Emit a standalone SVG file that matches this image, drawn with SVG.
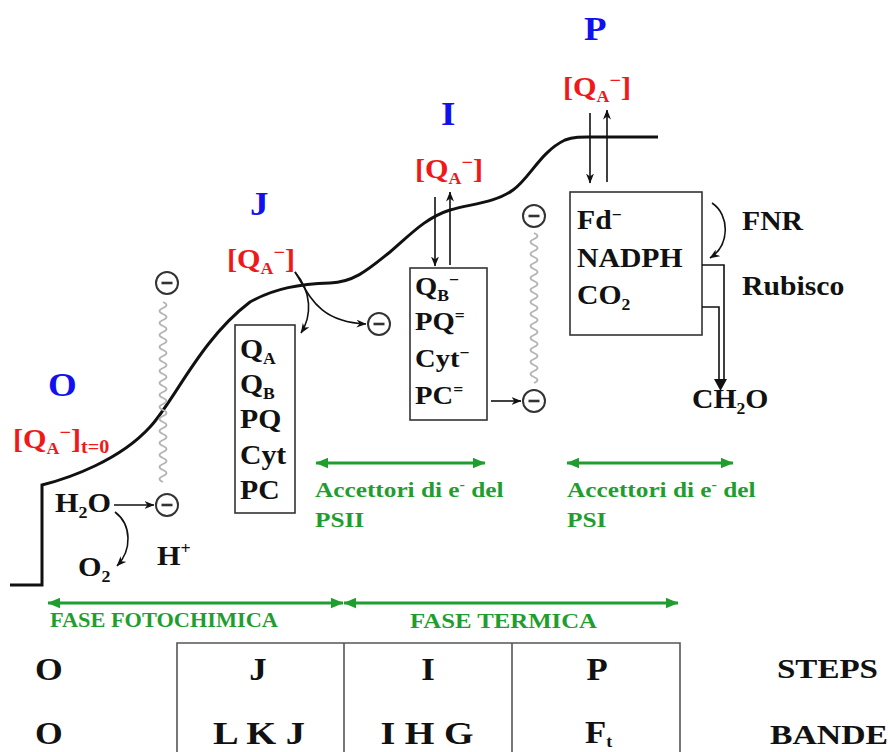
<svg xmlns="http://www.w3.org/2000/svg" width="890" height="752" viewBox="0 0 890 752">
<style>
text{font-family:"Liberation Serif","Times New Roman",serif;font-weight:bold;fill:#111}
.b{fill:#1010f0;font-size:33px}
.r{fill:#f01818;font-size:27px}
.k{font-size:27px}
.k25{font-size:26px}
.g{fill:#1f9e2f;font-size:22px}
.gs{fill:#1f9e2f;font-size:21px}
.tb{font-size:31px}
.sub{font-size:16px}
.sup{font-size:16px}
.box{fill:#fff;stroke:#333;stroke-width:1.6}
.ln{fill:none;stroke:#111;stroke-width:1.6}
.gl{fill:none;stroke:#1f9e2f;stroke-width:3}
.wave{fill:none;stroke:#b4b4b4;stroke-width:1.8}
.tab{fill:none;stroke:#555;stroke-width:1.6}
</style>
<defs>
<marker id="ah" viewBox="0 0 10 8" refX="9.5" refY="4" markerWidth="10" markerHeight="8" markerUnits="userSpaceOnUse" orient="auto"><path d="M0,0 L10,4 L0,8 L3,4z" fill="#111"/></marker>
<marker id="gh" viewBox="0 0 12 10" refX="11.5" refY="5" markerWidth="13" markerHeight="11" markerUnits="userSpaceOnUse" orient="auto-start-reverse"><path d="M0,0 L12,5 L0,10z" fill="#1f9e2f"/></marker>
<g id="em"><circle cx="0" cy="0" r="11" fill="#fff" stroke="#333" stroke-width="2"/><line x1="-5.5" y1="0" x2="5.5" y2="0" stroke="#333" stroke-width="2.6"/></g>
</defs>
<rect width="890" height="752" fill="#fff"/>

<g id="curve">
<path d="M10,585 H42 V485 C70,478 120,460 150,427 C175,400 200,340 250,302 C275,288 300,284 330,283 C355,282 370,268 390,252 C410,235 425,218 450,210 C470,204 495,203 513,190 C530,178 540,152 565,140 C575,136 585,137 600,137 H658" fill="none" stroke="#111" stroke-width="3"/>
</g>

<g id="waves">
<path class="wave" d="M163,302 q7,3 0,6 t0,6 t0,6 t0,6 t0,6 t0,6 t0,6 t0,6 t0,6 t0,6 t0,6 t0,6 t0,6 t0,6 t0,6 t0,6 t0,6 t0,6 t0,6 t0,6 t0,6 t0,6 t0,6 t0,6 t0,6 t0,6 t0,6 t0,6 t0,6 t0,6"/>
<path class="wave" d="M534,233 q7,3 0,6 t0,6 t0,6 t0,6 t0,6 t0,6 t0,6 t0,6 t0,6 t0,6 t0,6 t0,6 t0,6 t0,6 t0,6 t0,6 t0,6 t0,6 t0,6 t0,6 t0,6 t0,6 t0,6 t0,6 t0,6"/>
</g>

<g id="step-O">
<text class="b" transform="translate(48,396) scale(1.12,1)">O</text>
<text class="r" transform="translate(13,448) scale(1.12,1)">[Q<tspan class="sub" dy="6">A</tspan><tspan style="font-size:18px" dy="-16">−</tspan><tspan dy="10">]</tspan><tspan style="font-size:18px" dy="5">t=0</tspan></text>
<text class="k" transform="translate(55,512) scale(1.12,1)">H<tspan class="sub" dy="6">2</tspan><tspan dy="-6">O</tspan></text>
<text class="k" transform="translate(78,576) scale(1.12,1)">O<tspan class="sub" dy="6">2</tspan></text>
<text class="k" transform="translate(157,565) scale(1.12,1)">H<tspan class="sup" dy="-11">+</tspan></text>
<use href="#em" x="167" y="283"/>
<use href="#em" x="167" y="505"/>
</g>

<g id="step-J">
<text class="b" transform="translate(250,215) scale(1.12,1)">J</text>
<text class="r" transform="translate(227,268) scale(1.12,1)">[Q<tspan class="sub" dy="6">A</tspan><tspan style="font-size:18px" dy="-16">−</tspan><tspan dy="10">]</tspan></text>
<use href="#em" x="379" y="324"/>
</g>

<g id="box-J">
<rect class="box" x="235" y="325" width="60" height="188"/>
<text class="k" transform="translate(240,358) scale(1.1,1)">Q<tspan class="sub" dy="6">A</tspan></text>
<text class="k" transform="translate(240,393) scale(1.1,1)">Q<tspan class="sub" dy="6">B</tspan></text>
<text class="k" transform="translate(240,428) scale(1.1,1)">PQ</text>
<text class="k" transform="translate(240,464) scale(1.1,1)">Cyt</text>
<text class="k" transform="translate(240,499) scale(1.1,1)">PC</text>
</g>

<g id="step-I">
<text class="b" transform="translate(441,125) scale(1.12,1)">I</text>
<text class="r" transform="translate(415,178) scale(1.12,1)">[Q<tspan class="sub" dy="6">A</tspan><tspan style="font-size:18px" dy="-16">−</tspan><tspan dy="10">]</tspan></text>
<use href="#em" x="534" y="216"/>
<use href="#em" x="534" y="401"/>
</g>

<g id="box-I">
<rect class="box" x="410" y="268" width="77" height="152"/>
<text class="k25" transform="translate(415,295) scale(1.1,1)">Q<tspan class="sub" dy="6">B</tspan><tspan class="sup" dy="-16">−</tspan></text>
<text class="k25" transform="translate(415,330) scale(1.1,1)">PQ<tspan class="sup" dy="-9">=</tspan></text>
<text class="k25" transform="translate(415,367) scale(1.1,1)">Cyt<tspan class="sup" dy="-9">−</tspan></text>
<text class="k25" transform="translate(415,404) scale(1.1,1)">PC<tspan class="sup" dy="-9">=</tspan></text>
</g>

<g id="step-P">
<text class="b" transform="translate(584,40) scale(1.12,1)">P</text>
<text class="r" transform="translate(563,96) scale(1.12,1)">[Q<tspan class="sub" dy="6">A</tspan><tspan style="font-size:18px" dy="-16">−</tspan><tspan dy="10">]</tspan></text>
</g>

<g id="box-P">
<rect class="box" x="570" y="192" width="132" height="143"/>
<text class="k" transform="translate(577,229) scale(1.1,1)">Fd<tspan class="sup" dy="-9">−</tspan></text>
<text class="k" transform="translate(577,267) scale(1.1,1)">NADPH</text>
<text class="k" transform="translate(577,304) scale(1.1,1)">CO<tspan class="sub" dy="6">2</tspan></text>
</g>

<g id="labels-P">
<text class="k" transform="translate(742,230) scale(1.1,1)">FNR</text>
<text class="k" transform="translate(742,295) scale(1.1,1)">Rubisco</text>
<text class="k" transform="translate(692,408) scale(1.1,1)">CH<tspan class="sub" dy="6">2</tspan><tspan dy="-6">O</tspan></text>
</g>

<g id="acceptors">
<text class="g" transform="translate(315,497) scale(1.15,1)">Accettori di e<tspan style="font-size:14px" dy="-8">-</tspan><tspan dy="8"> del</tspan></text>
<text class="g" transform="translate(315,527) scale(1.15,1)">PSII</text>
<text class="g" transform="translate(567,497) scale(1.15,1)">Accettori di e<tspan style="font-size:14px" dy="-8">-</tspan><tspan dy="8"> del</tspan></text>
<text class="g" transform="translate(567,527) scale(1.15,1)">PSI</text>
</g>

<g id="phases">
<text class="gs" x="50" y="627" textLength="228" lengthAdjust="spacingAndGlyphs">FASE FOTOCHIMICA</text>
<text class="gs" x="410" y="628" textLength="187" lengthAdjust="spacingAndGlyphs">FASE TERMICA</text>
</g>

<g id="connectors">
<line class="ln" x1="114" y1="505" x2="154" y2="505" marker-end="url(#ah)"/>
<path class="ln" d="M115,512 C132,525 132,550 117,566" marker-end="url(#ah)"/>
<path class="ln" d="M295,272 C312,292 312,316 301,333" marker-end="url(#ah)"/>
<path class="ln" d="M295,272 C310,296 318,322 366,324" marker-end="url(#ah)"/>
<line class="ln" x1="435" y1="197" x2="435" y2="266" marker-end="url(#ah)"/>
<line class="ln" x1="450" y1="265" x2="450" y2="192" marker-end="url(#ah)"/>
<line class="ln" x1="491" y1="401" x2="521" y2="401" marker-end="url(#ah)"/>
<line class="ln" x1="590" y1="113" x2="590" y2="183" marker-end="url(#ah)"/>
<line class="ln" x1="607" y1="182" x2="607" y2="110" marker-end="url(#ah)"/>
<path class="ln" d="M712,203 C730,215 730,245 710,258" marker-end="url(#ah)"/>
<path class="ln" d="M702,265 H724 V382"/>
<path class="ln" d="M702,307 H719 V382"/>
<path d="M714,379 L727,379 L720.5,391z" fill="#111"/>
<line class="gl" x1="316" y1="463" x2="485" y2="463" marker-start="url(#gh)" marker-end="url(#gh)"/>
<line class="gl" x1="567" y1="463" x2="733" y2="463" marker-start="url(#gh)" marker-end="url(#gh)"/>
<line class="gl" x1="48" y1="603" x2="343" y2="603" marker-start="url(#gh)" marker-end="url(#gh)"/>
<line class="gl" x1="344" y1="603" x2="678" y2="603" marker-start="url(#gh)" marker-end="url(#gh)"/>
</g>

<g id="table">
<path class="tab" d="M177,752 V643 H680 V752 M344,643 V752 M512,643 V752"/>
<text class="tb" transform="translate(35,680) scale(1.15,1)">O</text>
<text class="tb" transform="translate(35,744) scale(1.15,1)">O</text>
<text class="tb" text-anchor="middle" transform="translate(258,680) scale(1.12,1)">J</text>
<text class="tb" text-anchor="middle" transform="translate(428,680) scale(1.12,1)">I</text>
<text class="tb" text-anchor="middle" transform="translate(597,680) scale(1.12,1)">P</text>
<text class="tb" x="259" y="744" text-anchor="middle" textLength="92" lengthAdjust="spacingAndGlyphs">L K J</text>
<text class="tb" x="427" y="744" text-anchor="middle" textLength="93" lengthAdjust="spacingAndGlyphs">I H G</text>
<text class="tb" transform="translate(585,743) scale(1.12,1)">F<tspan class="sub" dy="4">t</tspan></text>
<text style="font-size:27px" x="777" y="678" textLength="101" lengthAdjust="spacingAndGlyphs">STEPS</text>
<text style="font-size:28px" x="770" y="744" textLength="118" lengthAdjust="spacingAndGlyphs">BANDE</text>
</g>
</svg>
